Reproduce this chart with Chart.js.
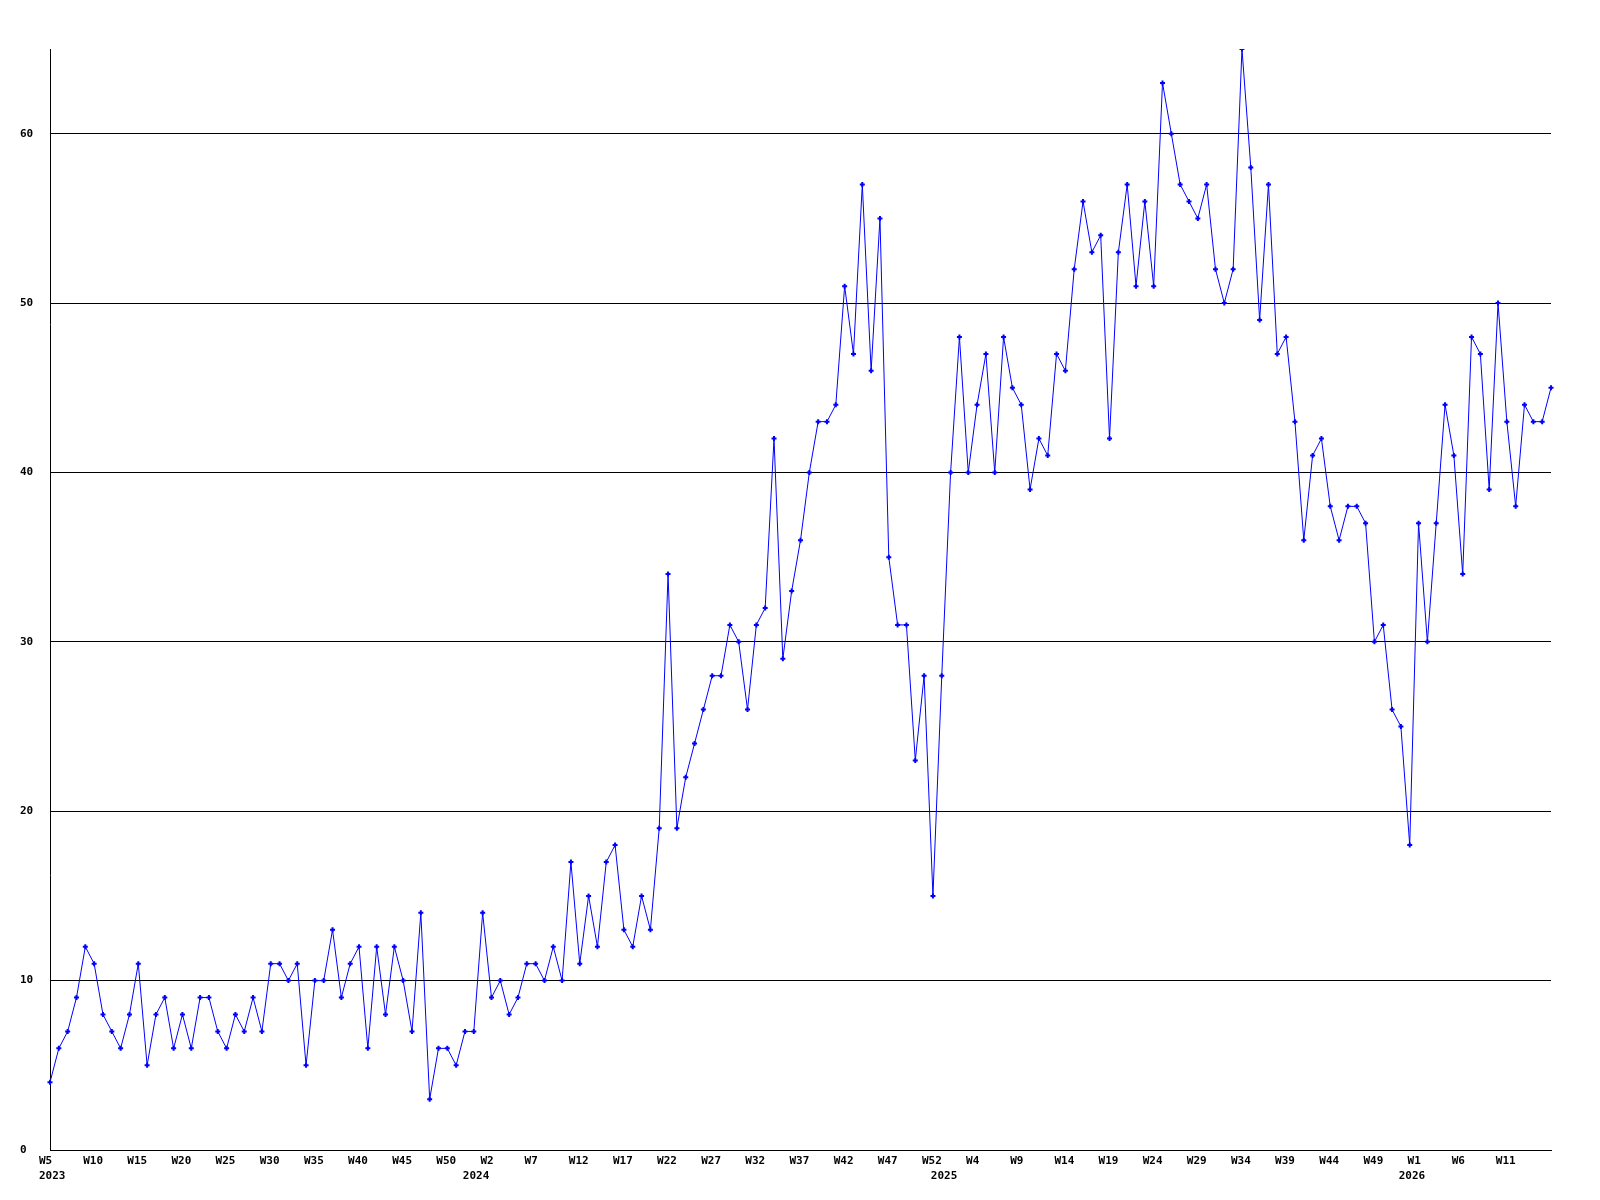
<!DOCTYPE html>
<html>
<head>
<meta charset="utf-8">
<script src="https://cdn.jsdelivr.net/npm/chart.js@4"></script>
<style>
  body { margin: 0; background: #fff; }
  canvas { display: block; }
</style>
</head>
<body>
<canvas id="chart" width="1600" height="1200"></canvas>
<script>
// weekly categories, 2023 W5 .. 2026 W16 (each year starts at W0)
const weeks = [
    // 2023
    'W5','W6','W7','W8','W9','W10','W11','W12','W13','W14','W15','W16','W17','W18','W19','W20',
    'W21','W22','W23','W24','W25','W26','W27','W28','W29','W30','W31','W32','W33','W34','W35','W36',
    'W37','W38','W39','W40','W41','W42','W43','W44','W45','W46','W47','W48','W49','W50','W51','W52',
    // 2024
    'W0','W1','W2','W3','W4','W5','W6','W7','W8','W9','W10','W11','W12','W13','W14','W15','W16',
    'W17','W18','W19','W20','W21','W22','W23','W24','W25','W26','W27','W28','W29','W30','W31','W32',
    'W33','W34','W35','W36','W37','W38','W39','W40','W41','W42','W43','W44','W45','W46','W47','W48',
    'W49','W50','W51','W52',
    // 2025
    'W0','W1','W2','W3','W4','W5','W6','W7','W8','W9','W10','W11','W12','W13','W14','W15','W16',
    'W17','W18','W19','W20','W21','W22','W23','W24','W25','W26','W27','W28','W29','W30','W31','W32',
    'W33','W34','W35','W36','W37','W38','W39','W40','W41','W42','W43','W44','W45','W46','W47','W48',
    'W49','W50','W51','W52',
    // 2026
    'W0','W1','W2','W3','W4','W5','W6','W7','W8','W9','W10','W11','W12','W13','W14','W15','W16'
];
const years = ['2023', '2024', '2025', '2026'];

const values = [
    4, 6, 7, 9, 12, 11, 8, 7, 6, 8,
    11, 5, 8, 9, 6, 8, 6, 9, 9, 7,
    6, 8, 7, 9, 7, 11, 11, 10, 11, 5,
    10, 10, 13, 9, 11, 12, 6, 12, 8, 12,
    10, 7, 14, 3, 6, 6, 5, 7, 7, 14,
    9, 10, 8, 9, 11, 11, 10, 12, 10, 17,
    11, 15, 12, 17, 18, 13, 12, 15, 13, 19,
    34, 19, 22, 24, 26, 28, 28, 31, 30, 26,
    31, 32, 42, 29, 33, 36, 40, 43, 43, 44,
    51, 47, 57, 46, 55, 35, 31, 31, 23, 28,
    15, 28, 40, 48, 40, 44, 47, 40, 48, 45,
    44, 39, 42, 41, 47, 46, 52, 56, 53, 54,
    42, 53, 57, 51, 56, 51, 63, 60, 57, 56,
    55, 57, 52, 50, 52, 65, 58, 49, 57, 47,
    48, 43, 36, 41, 42, 38, 36, 38, 38, 37,
    30, 31, 26, 25, 18, 37, 30, 37, 44, 41,
    34, 48, 47, 39, 50, 43, 38, 44, 43, 43,
    45
];

const yMax = 65;
const yStep = 10;
const weekTickEvery = 5;

// year label goes on the first week of each year
const yearAt = {};
let y = 0;
weeks.forEach((w, i) => {
    if (i === 0 || w === 'W0') { yearAt[i] = years[y]; y++; }
});

const font = { family: 'DejaVu Sans Mono', size: 11, weight: 'bold', lineHeight: 1.4 };

new Chart(document.getElementById('chart'), {
    type: 'line',
    data: {
        labels: weeks,
        datasets: [{
            data: values,
            borderColor: '#0000ff',
            borderWidth: 1,
            tension: 0,
            pointStyle: 'cross',
            pointRadius: 2.5,
            pointBorderWidth: 2,
            pointBorderColor: '#0000ff',
            pointBackgroundColor: '#0000ff'
        }]
    },
    options: {
        responsive: false,
        animation: false,
        devicePixelRatio: 1,
        layout: { padding: { left: 20, top: 49, right: 49, bottom: 0 } },
        plugins: { legend: { display: false }, tooltip: { enabled: false } },
        scales: {
            x: {
                offset: false,
                grid: { display: false, drawTicks: false },
                border: { color: '#000', width: 1 },
                afterFit: axis => { axis.height = 50; },
                ticks: {
                    autoSkip: false,
                    maxRotation: 0,
                    minRotation: 0,
                    align: 'start',
                    labelOffset: -11,
                    padding: 3,
                    color: '#000',
                    font: font,
                    callback: function (value, index) {
                        const last = weeks.length - 1;
                        const wk = (index % weekTickEvery === 0 && index < last) ? weeks[index] : '';
                        const yr = yearAt[index];
                        if (yr) return [wk, yr];
                        return wk;
                    }
                }
            },
            y: {
                min: 0,
                max: yMax,
                grid: { color: '#000', lineWidth: 1, drawTicks: false },
                border: { color: '#000', width: 1 },
                afterFit: axis => { axis.width = 30; },
                afterBuildTicks: axis => {
                    axis.ticks = axis.ticks.filter(t => t.value % yStep === 0);
                },
                ticks: {
                    stepSize: yStep,
                    crossAlign: 'far',
                    color: '#000',
                    font: font
                }
            }
        }
    }
});
</script>
</body>
</html>
